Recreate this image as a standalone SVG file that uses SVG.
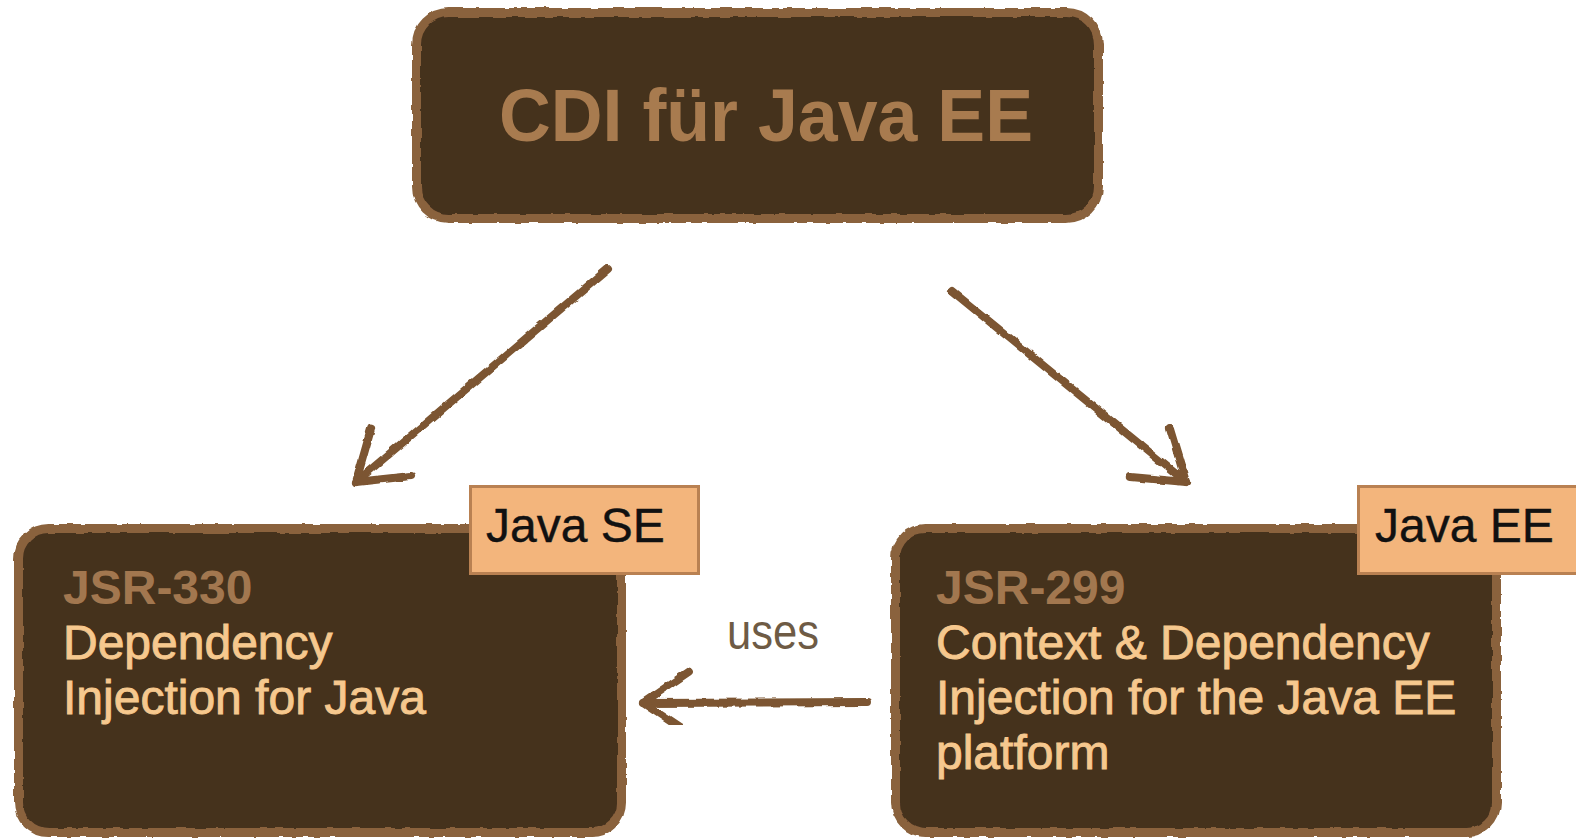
<svg xmlns="http://www.w3.org/2000/svg" width="1576" height="838" viewBox="0 0 1576 838">
  <defs>
    <style>
      .box { fill: #45311f; stroke: #8a623c; stroke-width: 9; }
      .tag { fill: #f3b57c; stroke: #b98152; stroke-width: 3; }
      .title { font-family: "Liberation Sans", Arial, sans-serif; font-weight: bold; fill: #a87b4f; }
      .jsr { font-family: "Liberation Sans", Arial, sans-serif; font-weight: bold; font-size: 48px; fill: #a2774f; }
      .desc { font-family: "Liberation Sans", Arial, sans-serif; font-size: 48px; fill: #f6c88e; stroke: #f6c88e; stroke-width: 0.9; }
      .tagtext { font-family: "Liberation Sans", Arial, sans-serif; font-size: 48px; fill: #111111; stroke: #111111; stroke-width: 0.4; }
      .label { font-family: "Liberation Sans", Arial, sans-serif; font-size: 50px; fill: #6e5b45; }
      .arrow { fill: none; stroke: #7b5531; stroke-width: 8; stroke-linecap: round; stroke-linejoin: round; }
    </style>
    <filter id="rough" x="-5%" y="-5%" width="110%" height="110%">
      <feTurbulence type="fractalNoise" baseFrequency="0.08" numOctaves="2" seed="3" result="n"/>
      <feDisplacementMap in="SourceGraphic" in2="n" scale="4" xChannelSelector="R" yChannelSelector="G"/>
    </filter>
    <marker id="head" markerUnits="userSpaceOnUse" viewBox="-60 -40 70 80" refX="0" refY="0" markerWidth="70" markerHeight="80" orient="auto" overflow="visible">
      <path d="M-46,-31 L0,0 L-46,31" fill="none" stroke="#7b5531" stroke-width="8" stroke-linecap="round" stroke-linejoin="round"/>
    </marker>
  </defs>

  <rect width="1576" height="838" fill="#ffffff"/>

  <g id="connectors" filter="url(#rough)">
    <line class="arrow" x1="608" y1="269" x2="356" y2="482" marker-end="url(#head)"/>
    <line class="arrow" x1="952" y1="291" x2="1186" y2="482" marker-end="url(#head)"/>
    <line class="arrow" x1="868" y1="702" x2="643" y2="703" marker-end="url(#head)"/>
  </g>
  <text class="label" x="727" y="649" textLength="92" lengthAdjust="spacingAndGlyphs">uses</text>

  <g id="node-cdi">
    <rect class="box" x="416.5" y="12.5" width="682" height="206" rx="32" filter="url(#rough)"/>
    <text class="title" x="499" y="141" font-size="75" textLength="534" lengthAdjust="spacingAndGlyphs">CDI für Java EE</text>
  </g>

  <g id="node-jsr330">
    <rect class="box" x="18.5" y="528.5" width="603" height="304" rx="30" filter="url(#rough)"/>
    <rect class="tag" x="470.5" y="486.5" width="228" height="87"/>
    <text class="tagtext" x="486" y="542">Java SE</text>
    <text class="jsr" x="63" y="604">JSR-330</text>
    <text class="desc" x="63" y="659">Dependency</text>
    <text class="desc" x="63" y="714">Injection for Java</text>
  </g>

  <g id="node-jsr299">
    <rect class="box" x="895.5" y="528.5" width="601" height="304" rx="30" filter="url(#rough)"/>
    <rect class="tag" x="1358.5" y="486.5" width="222" height="87"/>
    <text class="tagtext" x="1375" y="542">Java EE</text>
    <text class="jsr" x="936" y="604">JSR-299</text>
    <text class="desc" x="936" y="659">Context &amp; Dependency</text>
    <text class="desc" x="936" y="714">Injection for the Java EE</text>
    <text class="desc" x="936" y="769">platform</text>
  </g>
</svg>
